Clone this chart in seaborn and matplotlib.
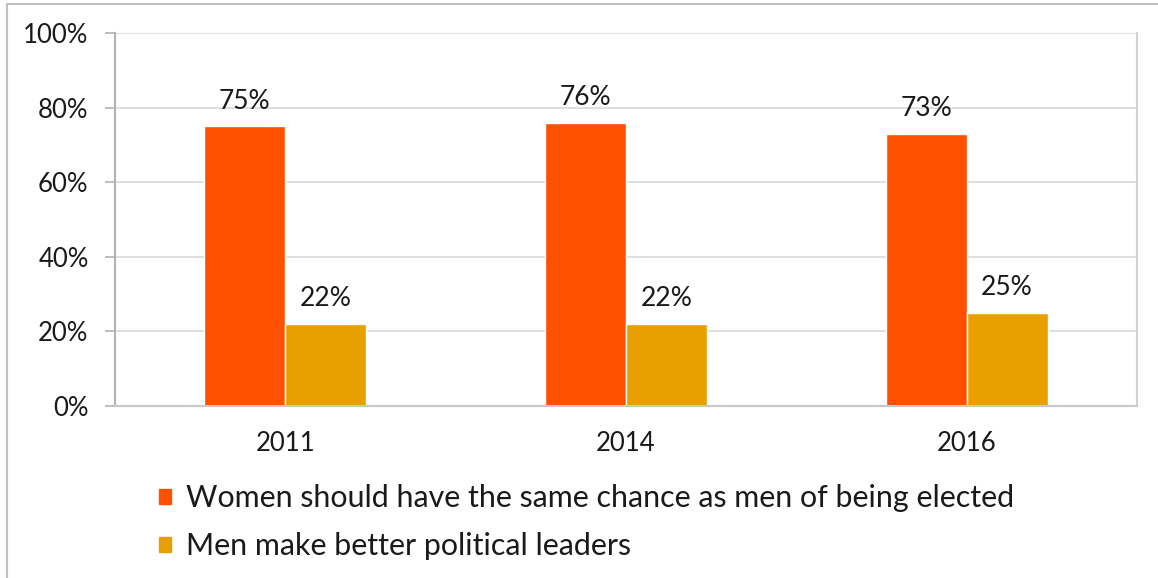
import matplotlib
matplotlib.use("Agg")
import matplotlib.pyplot as plt
import matplotlib.patches as mpatches
import seaborn as sns
import pandas as pd

years = ["2011", "2014", "2016"]
series_names = [
    "Women should have the same chance as men of being elected",
    "Men make better political leaders",
]
women_equal = [75, 76, 73]
men_better = [22, 22, 25]
colors = ["#FF5000", "#E8A000"]
yticks = [0, 20, 40, 60, 80, 100]

df = pd.DataFrame({
    "year": years * 2,
    "series": [series_names[0]] * 3 + [series_names[1]] * 3,
    "value": women_equal + men_better,
})

sns.set_theme(style="white")
plt.rcParams["font.family"] = ["Lato", "DejaVu Sans"]
text_color = "#1a1a1a"

fig = plt.figure(figsize=(11.58, 5.78), dpi=100)
ax = fig.add_axes([115 / 1158, 1 - 406 / 578, (1137 - 115) / 1158, (406 - 33) / 578])

sns.barplot(data=df, x="year", y="value", hue="series", palette=colors,
            width=0.475, saturation=1, ax=ax, legend=False)

ax.set_ylim(0, 100)
ax.set_yticks(yticks)
ax.set_yticklabels([f"{t}%" for t in yticks], fontsize=18.5, color=text_color)
ax.tick_params(axis="x", labelsize=18.5, colors=text_color, length=0, pad=18)
ax.tick_params(axis="y", length=7, width=1.2, color="#b3b3b3", pad=12, left=True)
ax.set_xlabel("")
ax.set_ylabel("")
ax.grid(axis="y", color="#d9d9d9", linewidth=1.2)
ax.set_axisbelow(True)
for side in ["top", "right"]:
    ax.spines[side].set_visible(False)
ax.spines["left"].set_color("#b3b3b3")
ax.spines["left"].set_linewidth(1.5)
ax.spines["bottom"].set_color("#c8c8c8")
ax.spines["bottom"].set_linewidth(1.5)
ax.axvline(ax.get_xlim()[1], color="#d0d0d0", linewidth=1.5, clip_on=False)

for container in ax.containers:
    ax.bar_label(container, labels=[f"{v:.0f}%" for v in container.datavalues],
                 padding=9, fontsize=19, color=text_color)

handles = [mpatches.Patch(color=c, label=n) for c, n in zip(colors, series_names)]
fig.legend(handles=handles, loc="upper left", bbox_to_anchor=(132 / 1158, 1 - 457 / 578),
           frameon=False, fontsize=21.9, handlelength=0.37, handleheight=0.37,
           handletextpad=0.5, labelspacing=0.66, labelcolor=text_color)

# outer chart border
fig.add_artist(plt.Line2D([7 / 1158, 1], [1 - 4 / 578, 1 - 4 / 578], color="#c0c0c0", linewidth=1.5,
                          transform=fig.transFigure))
fig.add_artist(plt.Line2D([7 / 1158, 7 / 1158], [0, 1 - 4 / 578], color="#c0c0c0", linewidth=1.5,
                          transform=fig.transFigure))

fig.savefig("out.png", dpi=100)
